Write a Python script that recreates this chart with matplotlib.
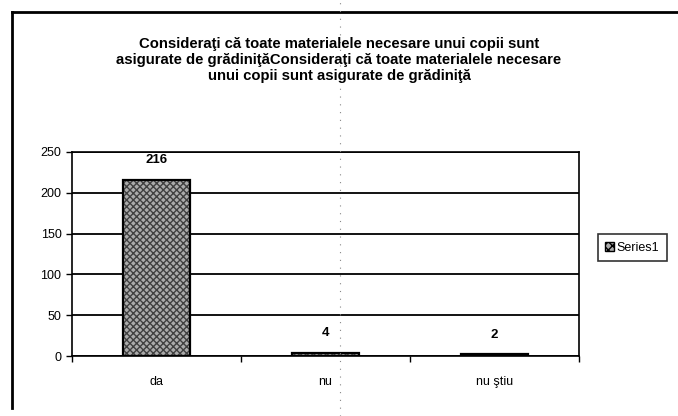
import matplotlib.pyplot as plt
from matplotlib.lines import Line2D
import numpy as np

# Date din grafic
categories = ["da", "nu", "nu ştiu"]
values = [216, 4, 2]
series_name = "Series1"
title = ("Consideraţi că toate materialele necesare unui copii sunt\n"
         "asigurate de grădiniţăConsideraţi că toate materialele necesare\n"
         "unui copii sunt asigurate de grădiniţă")
yticks = [0, 50, 100, 150, 200, 250]

plt.rcParams['font.family'] = ['Liberation Sans', 'DejaVu Sans']

fig = plt.figure(figsize=(6.78, 4.16), dpi=100)
ax = fig.add_axes([0.106, 0.144, 0.748, 0.491])

x = np.arange(len(categories))
# umplutura hasurata gri, apoi conturul negru
ax.bar(x, values, width=0.4, color='#ababab', edgecolor='#404040', linewidth=0,
       hatch='xxxxx', zorder=3)
ax.bar(x, values, width=0.4, fill=False, edgecolor='black', linewidth=1.6,
       zorder=4)
for xi, v in zip(x, values):
    ax.annotate(str(v), (xi, v), xytext=(0, 10), textcoords='offset points',
                ha='center', va='bottom', fontsize=9.5, fontweight='bold')

ax.set_xlim(-0.5, len(categories) - 0.5)
ax.set_ylim(0, 250)
ax.set_yticks(yticks)
ax.set_xticks(x)
ax.set_xticklabels(categories, fontsize=9)
ax.tick_params(axis='x', length=0, pad=14)
ax.tick_params(axis='y', labelsize=9, length=4, width=1)
# tick-uri pe granitele categoriilor
ax.set_xticks(np.arange(-0.5, len(categories)), minor=True)
ax.tick_params(axis='x', which='minor', length=4, width=1)
ax.yaxis.grid(True, color='black', linewidth=1.3)
ax.set_axisbelow(True)
for s in ax.spines.values():
    s.set_linewidth(1.2)

fig.suptitle(title, fontsize=10.7, fontweight='bold', y=0.912, linespacing=1.2)

# element de legenda: patratel hasurat
handle = plt.Rectangle((0, 0), 1, 1, facecolor='#ababab', edgecolor='black',
                       hatch='xxxx', linewidth=1)
leg = ax.legend([handle], [series_name], loc='center left',
                bbox_to_anchor=(1.025, 0.53), fontsize=9, frameon=True,
                fancybox=False, edgecolor='black', handlelength=0.7,
                handleheight=0.7, handletextpad=0.2, borderpad=0.6)
leg.get_frame().set_linewidth(1.2)

# chenarul graficului si linia de pliere a paginii
fig.add_artist(Line2D([12 / 678, 1], [1 - 12 / 416] * 2, color='black', lw=2))
fig.add_artist(Line2D([12 / 678] * 2, [1 - 12 / 416, 8 / 416], color='black', lw=2))
fig.add_artist(Line2D([340 / 678] * 2, [0, 1], color='#888888', lw=0.8, ls=(0, (1, 6))))

fig.savefig("out.png", dpi=100)
